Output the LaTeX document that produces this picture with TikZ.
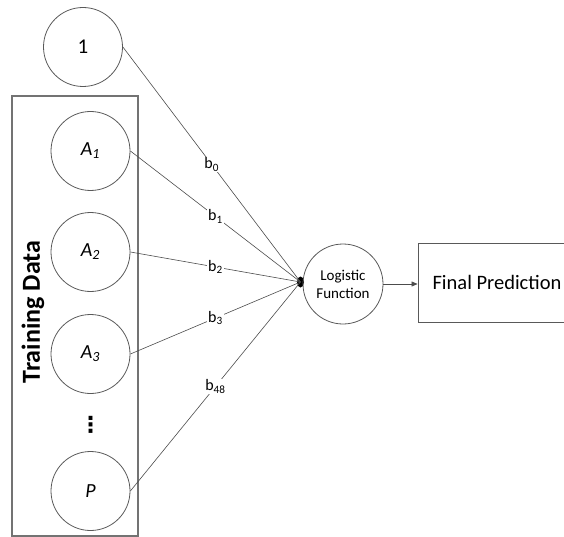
\documentclass[tikz,border=0pt]{standalone}
\usepackage{fontspec}
\setmainfont{Carlito}
\newfontfamily\dejavu{DejaVu Sans}
\usetikzlibrary{arrows.meta,shapes.geometric}
\begin{document}
\begin{tikzpicture}[x=1pt,y=-1pt,
  circ/.style={circle,draw=black!65,line width=0.8pt,minimum size=79pt,inner sep=0pt},
  feat/.style={circ,font=\fontsize{20}{24}\selectfont\itshape},
  wire/.style={draw=black!70,line width=0.6pt},
  wlabel/.style={fill=white,inner sep=1pt,font=\fontsize{16}{18}\selectfont,midway},
  outbox/.style={draw=black!65,line width=0.9pt,minimum width=158pt,minimum height=79pt,inner sep=0pt,font=\fontsize{20.5}{24}\selectfont},
  groupbox/.style={draw=black!55,line width=1.2pt}
]
\clip (0,0) rectangle (564,537);
\useasboundingbox (0,0) rectangle (564,537);
% training data box
\draw[groupbox] (12,96) rectangle (138,536);
\node[rotate=90,font=\fontsize{26}{30}\selectfont\bfseries] (td) at (33,312) {Training Data};
% nodes
\node[circ,font=\fontsize{21}{24}\selectfont] (one) at (83,47) {1};
\node[feat] (a1) at (90.5,151) {A\textsubscript{1}};
\node[feat] (a2) at (90.5,252) {A\textsubscript{2}};
\node[feat] (a3) at (90.5,354) {A\textsubscript{3}};
\node[font=\fontsize{22}{24}\selectfont\dejavu\bfseries,inner sep=0pt] (dots) at (90.5,425) {⋮};
\node[feat] (p) at (90.5,491) {P};
\node[ellipse,fill=black,minimum width=7pt,minimum height=11pt,inner sep=0pt] (j) at (300.5,282) {};
\node[circ,minimum size=80pt,align=center,font=\fontsize{15}{18}\selectfont] (lf) at (343,284) {Logistic\\Function};
\node[outbox] (fp) at (497,282.5) {Final Prediction};
% connectors
\draw[wire] (one.east) -- (j.center) node[wlabel] (l0) {b\textsubscript{0}};
\draw[wire] (a1.east) -- (j.center) node[wlabel] (l1) {b\textsubscript{1}};
\draw[wire] (a2.east) -- (j.center) node[wlabel] (l2) {b\textsubscript{2}};
\draw[wire] (a3.east) -- (j.center) node[wlabel] (l3) {b\textsubscript{3}};
\draw[wire] (p.east) -- (j.center) node[wlabel] (l48) {b\textsubscript{48}};
\draw[wire,-{Triangle[length=6pt,width=5pt]}] (lf.east) -- (fp.west |- lf.east);
\end{tikzpicture}
\end{document}
